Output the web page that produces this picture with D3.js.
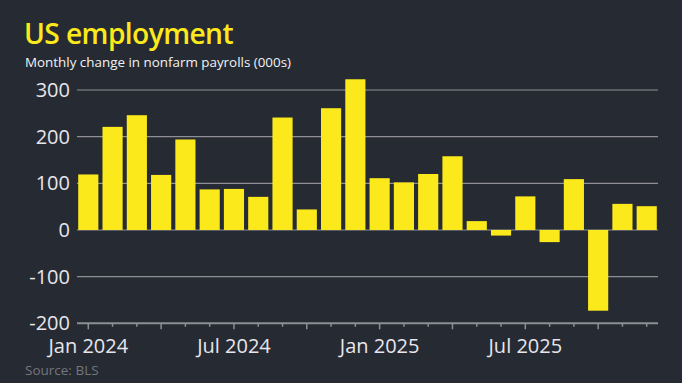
<!DOCTYPE html>
<html><head><meta charset="utf-8">
<script src="https://cdn.jsdelivr.net/npm/d3@7"></script>
<style>
html,body{margin:0;padding:0;background:#262a33;}
svg{display:block;}
</style></head>
<body>
<script>
const months = ["Jan 2024","Feb 2024","Mar 2024","Apr 2024","May 2024","Jun 2024","Jul 2024","Aug 2024","Sep 2024","Oct 2024","Nov 2024","Dec 2024",
"Jan 2025","Feb 2025","Mar 2025","Apr 2025","May 2025","Jun 2025","Jul 2025","Aug 2025","Sep 2025","Oct 2025","Nov 2025","Dec 2025"];
const payrolls = [119,221,246,118,194,87,88,71,241,44,261,323,111,102,120,158,19,-12,72,-26,109,-173,56,51];
const yTicks = [-200,-100,0,100,200,300];
const xLabels = ["Jan 2024","Jul 2024","Jan 2025","Jul 2025"];
const majorTicks = ["Jan 2024","Apr 2024","Jul 2024","Oct 2024","Jan 2025","Apr 2025","Jul 2025","Oct 2025"];

const W = 682, H = 383;
const font = "'Open Sans', 'Noto Sans', sans-serif";
const svg = d3.select("body").append("svg").attr("width", W).attr("height", H);
svg.append("rect").attr("width", W).attr("height", H).attr("fill", "#262a33");

const left = 77, right = 658;
const x = d3.scaleBand().domain(months).range([left, right]).paddingInner(0.17).paddingOuter(0.05);
const y = d3.scaleLinear().domain([-200, 300]).range([323.3, 90]);

svg.append("text").attr("x", 24).attr("y", 44).text("US employment")
  .attr("fill", "#fce91b").attr("font-family", font).attr("font-size", 28.2).attr("font-weight", 600).attr("letter-spacing", -0.6);
svg.append("text").attr("x", 25).attr("y", 67).text("Monthly change in nonfarm payrolls (000s)")
  .attr("fill", "#f2f2f4").attr("font-family", font).attr("font-size", 13.4);

// gridlines
svg.append("g").selectAll("line").data(yTicks.filter(d => d > -200)).join("line")
  .attr("x1", left).attr("x2", right).attr("y1", d => y(d)).attr("y2", d => y(d))
  .attr("stroke", "#8e8f94").attr("stroke-width", 1.2);

// y labels
svg.append("g").selectAll("text").data(yTicks).join("text")
  .attr("x", 70).attr("y", d => y(d) + 7).attr("text-anchor", "end")
  .attr("fill", "#e6e6ec").attr("font-family", font).attr("font-size", 20).text(d => d);

// bars
svg.append("g").selectAll("rect").data(payrolls).join("rect")
  .attr("x", (d, i) => x(months[i])).attr("width", x.bandwidth())
  .attr("y", d => y(Math.max(0, d))).attr("height", d => Math.abs(y(d) - y(0)))
  .attr("fill", "#fce91b");

// x axis
const xAxis = d3.axisBottom(x).tickSize(0).tickFormat("");
const gx = svg.append("g").attr("transform", `translate(0,${y(-200)})`).call(xAxis);
gx.select(".domain").remove();
gx.append("line").attr("x1", left).attr("x2", right).attr("stroke", "#8e8f94").attr("stroke-width", 2);
gx.selectAll(".mtick").data(months).join("line").attr("class", "mtick")
  .attr("x1", d => x(d) + x.bandwidth() / 2).attr("x2", d => x(d) + x.bandwidth() / 2)
  .attr("y1", 0).attr("y2", d => majorTicks.includes(d) ? 6 : 3.5)
  .attr("stroke", "#8e8f94").attr("stroke-width", 1.5);
gx.selectAll(".xl").data(xLabels).join("text").attr("class", "xl")
  .attr("x", d => x(d) + x.bandwidth() / 2).attr("y", 29.5).attr("text-anchor", "middle")
  .attr("fill", "#e6e6ec").attr("font-family", font).attr("font-size", 20).text(d => d);

svg.append("text").attr("x", 25).attr("y", 375).text("Source: BLS")
  .attr("fill", "#74767d").attr("font-family", font).attr("font-size", 13.5);
</script>
</body></html>
